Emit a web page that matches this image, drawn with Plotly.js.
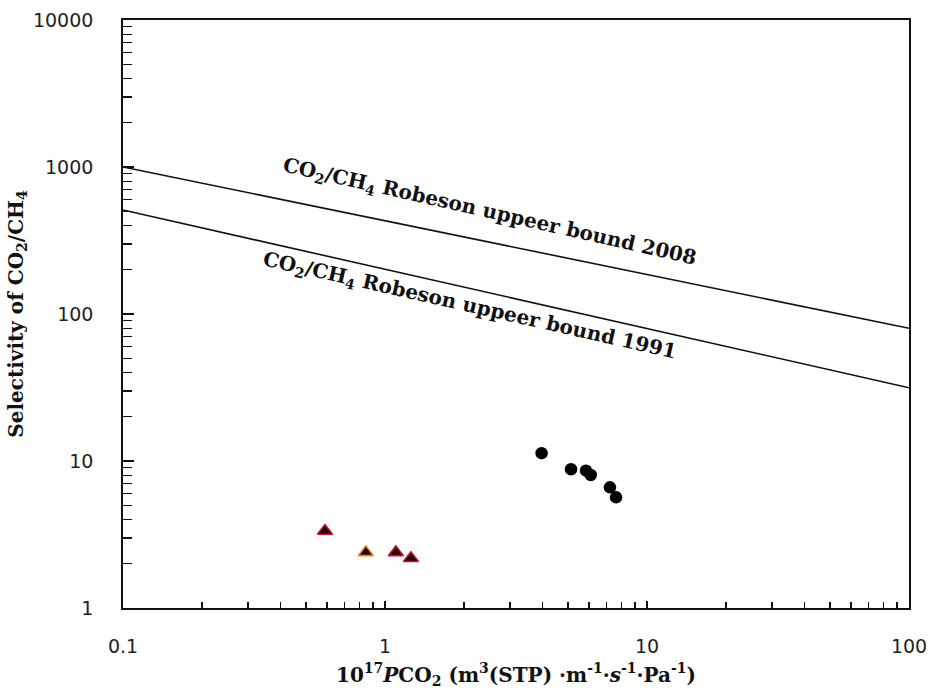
<!DOCTYPE html>
<html>
<head>
<meta charset="utf-8">
<script src="https://cdn.plot.ly/plotly-3.0.1.min.js"></script>
<style>html,body{margin:0;padding:0;background:#fff;}#chart{width:930px;height:698px;}</style>
</head>
<body>
<div id="chart"></div>
<script>
// Robeson upper bounds (endpoints of straight lines on log-log axes)
const bound2008X = [0.1, 100];
const bound2008Y = [1000, 80];
const bound1991X = [0.1, 100];
const bound1991Y = [510, 31.5];

// Circle series (black)
const circleX = [3.96, 5.13, 5.85, 6.10, 7.22, 7.62];
const circleY = [11.3, 8.79, 8.59, 8.03, 6.62, 5.66];

// Triangle series (dark red with red / orange outline)
const triX = [0.59, 0.845, 1.10, 1.256];
const triY = [3.34, 2.39, 2.39, 2.18];
const triEdge = ['#c8102e', '#e8841e', '#c8102e', '#c8102e'];

// Axis ticks
const xTickVals = [0.1, 1, 10, 100];
const xTickText = ['0.1', '1', '10', '100'];
const yTickVals = [1, 10, 100, 1000, 10000];
const yTickText = ['1', '10', '100', '1000', '10000'];

const serif = 'DejaVu Serif, Liberation Serif, serif';

const traces = [
  {x: bound2008X, y: bound2008Y, mode: 'lines', line: {color: '#111', width: 1.6}, hoverinfo: 'skip'},
  {x: bound1991X, y: bound1991Y, mode: 'lines', line: {color: '#111', width: 1.6}, hoverinfo: 'skip'},
  {x: circleX, y: circleY, mode: 'markers', marker: {symbol: 'circle', size: 12.5, color: '#000'}},
  {x: triX, y: triY, mode: 'markers', marker: {symbol: 'triangle-up', size: 13, color: '#220000', line: {color: triEdge, width: 1.6}}}
];

const layout = {
  width: 930, height: 698,
  margin: {l: 123, r: 21, t: 20, b: 90},
  paper_bgcolor: '#fff', plot_bgcolor: '#fff',
  showlegend: false,
  font: {family: 'DejaVu Sans, sans-serif', color: '#111'},
  xaxis: {
    type: 'log', range: [-1, 2],
    tickvals: xTickVals, ticktext: xTickText,
    ticks: 'inside', ticklen: 7, tickwidth: 1.4, tickcolor: '#111',
    minor: {ticks: 'inside', ticklen: 6, tickwidth: 1.4, tickcolor: '#111', dtick: 'D1', showgrid: false},
    showgrid: false, zeroline: false,
    showline: true, linecolor: '#111', linewidth: 1.8, mirror: true,
    tickfont: {size: 19, family: 'DejaVu Sans, sans-serif', color: '#222'},
    ticklabelstandoff: 20,
    title: {text: '10<sup>17</sup><i>P</i>CO<sub>2</sub> (m<sup>3</sup>(STP) ·m<sup>-1</sup>·<i>s</i><sup>-1</sup>·Pa<sup>-1</sup>)',
            font: {family: serif, size: 20, color: '#111', weight: 'bold'}, standoff: 12}
  },
  yaxis: {
    type: 'log', range: [0, 4],
    tickvals: yTickVals, ticktext: yTickText,
    ticks: 'inside', ticklen: 11, tickwidth: 1.4, tickcolor: '#111',
    minor: {ticks: 'inside', ticklen: 9, tickwidth: 1.4, tickcolor: '#111', dtick: 'D1', showgrid: false},
    showgrid: false, zeroline: false,
    showline: true, linecolor: '#111', linewidth: 1.8, mirror: true,
    tickfont: {size: 19, family: 'DejaVu Sans, sans-serif', color: '#222'},
    ticklabelstandoff: 24,
    title: {text: 'Selectivity of CO<sub>2</sub>/CH<sub>4</sub>',
            font: {family: serif, size: 20, color: '#111', weight: 'bold'}, standoff: 4}
  },
  annotations: [
    {xref: 'x', yref: 'y', x: 0.399, y: 2.694, showarrow: false, textangle: 12.8,
     text: 'CO<sub>2</sub>/CH<sub>4</sub> Robeson uppeer bound 2008',
     font: {family: serif, size: 20, color: '#111', weight: 'bold'}},
    {xref: 'x', yref: 'y', x: 0.324, y: 2.054, showarrow: false, textangle: 12.8,
     text: 'CO<sub>2</sub>/CH<sub>4</sub> Robeson uppeer bound 1991',
     font: {family: serif, size: 20, color: '#111', weight: 'bold'}}
  ]
};

Plotly.newPlot('chart', traces, layout, {displayModeBar: false, staticPlot: true});
</script>
</body>
</html>
